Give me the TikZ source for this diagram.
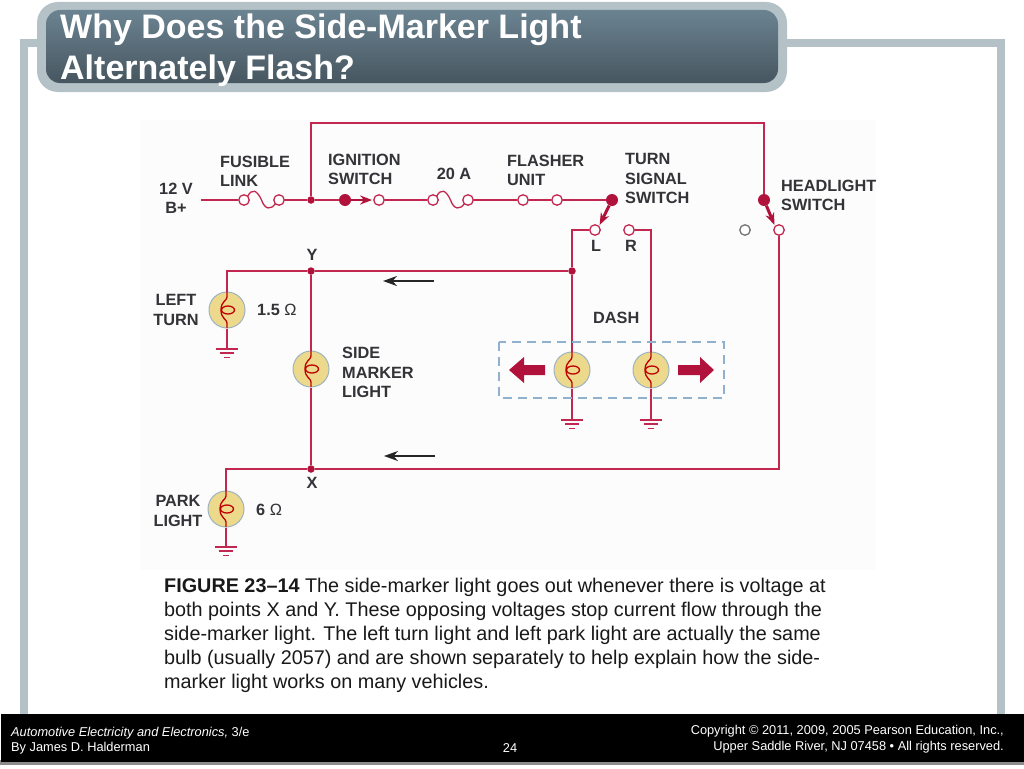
\documentclass[tikz,border=0pt]{standalone}
\usepackage{fontspec}
\setmainfont{Liberation Sans}
\usetikzlibrary{arrows.meta}
\definecolor{framecol}{HTML}{B4C2C8}
\definecolor{titletop}{HTML}{6B8391}
\definecolor{titlebot}{HTML}{475660}
\definecolor{wirecol}{HTML}{C2274F}
\definecolor{dotcol}{HTML}{B0123B}
\definecolor{bulbcol}{HTML}{EDD98C}
\definecolor{bulbrim}{HTML}{9DB3BD}
\definecolor{labelcol}{HTML}{333338}
\definecolor{dashcol}{HTML}{8FB0CE}
\tikzset{
  wire/.style={draw=wirecol,line width=1.3pt},
  term/.style={circle,draw=wirecol,fill=white,line width=1.3pt,minimum size=10.5pt,inner sep=0pt},
  junct/.style={circle,fill=dotcol,minimum size=7.5pt,inner sep=0pt},
  pivot/.style={circle,fill=dotcol,minimum size=12pt,inner sep=0pt},
  bulb/.style={circle,draw=bulbrim,fill=bulbcol,line width=1pt,minimum size=36pt,inner sep=0pt},
  lab/.style={font=\fontsize{16.3}{19.5}\selectfont\bfseries,text=labelcol,inner sep=0pt},
  bigarrow/.style={fill=dotcol,draw=none},
  flow/.style={-{Stealth[length=14pt,width=10pt]},line width=2pt,black!85},
  arm/.style={-{Stealth[length=12pt,width=9pt]},line width=3pt,dotcol,shorten >=1pt},
  foot/.style={font=\fontsize{12.8}{15}\selectfont,text=white,inner sep=0pt},
  titletext/.style={anchor=base west,font=\fontsize{34}{41}\selectfont\bfseries,text=white,inner sep=0pt}
}
\newcommand{\fuselink}[1]{\draw[wire,shift={(#1.center)}] (3.5,-3.5) .. controls (8,-12) and (13,-10) .. (17.5,0) .. controls (21,10) and (27,10) .. (31.5,3.5);}
\newcommand{\filament}[1]{\begin{scope}[shift={(#1.center)},line width=1.3pt,red!75!black]
  \draw (0,-18) -- (0,-13) .. controls (0,-9) and (-6,-9) .. (-6,0) .. controls (-6,9) and (0,9) .. (0,13) -- (0,18);
  \draw (1,0) ellipse [x radius=6.5,y radius=4];
\end{scope}}
\newcommand{\ground}[1]{\draw[wirecol,line width=1.2pt] (#1) ++(-11,0) -- ++(22,0) ++(-18,4) -- ++(14,0) ++(-10,4.5) -- ++(6,0);}
\begin{document}
\begin{tikzpicture}[x=1pt,y=-1pt]
\useasboundingbox (0,0) rectangle (1024,768);
\fill[white] (0,0) rectangle (1024,768);
\draw[framecol,line width=8pt] (24,714) -- (24,43) -- (1001,43) -- (1001,714);
\fill[black!1!white] (140,120) rectangle (876,570);
\fill[framecol,rounded corners=21pt] (37,2) rectangle (787,92);
\shade[top color=titletop,bottom color=titlebot,rounded corners=14pt] (46,10) rectangle (778,83);
\node[titletext] (title) at (60,38) {Why Does the Side-Marker Light};
\node[titletext] (title2) at (60,79) {Alternately Flash?};
% battery line
\coordinate (bplus) at (201,200);
\node[term] (fl1) at (244,200) {};
\node[term] (fl2) at (279,200) {};
\node[junct] (top) at (311,200) {};
\node[pivot] (ign) at (345,200) {};
\node[term] (ign2) at (379,200) {};
\node[term] (fa1) at (433,200) {};
\node[term] (fa2) at (468,200) {};
\node[term] (fu1) at (523,200) {};
\node[term] (fu2) at (557,200) {};
\node[pivot] (turn) at (612,200) {};
\node[term] (tl) at (595,230) {};
\node[term] (tr) at (629,230) {};
\node[pivot] (head) at (764,200) {};
\node[term] (hd) at (779,230) {};
\node[term,draw=black!55] (hoff) at (745,230) {};
\coordinate (top1) at (311,123);
\coordinate (top2) at (764,123);
\draw[wire] (bplus) -- (fl1);
\draw[wire] (fl2) -- (top);
\draw[wire] (top) -- (ign);
\draw[wire] (ign2) -- (fa1);
\draw[wire] (fa2) -- (fu1);
\draw[wire] (fu1) -- (fu2);
\draw[wire] (fu2) -- (turn);
\draw[wire] (top) -- (top1) -- (top2) -- (head);
\fuselink{fl1}
\fuselink{fa1}
\draw[arm,line width=2pt] (ign) -- (ign2.west);
\draw[arm] (turn) -- (tl.north east);
\draw[arm] (head) -- (hd.north west);
% lamps
\node[junct] (y) at (311,271) {};
\node[junct] (ly) at (572,271) {};
\node[junct] (x) at (311,469) {};
\node[bulb] (left) at (227,310) {};
\node[bulb] (side) at (311,369) {};
\node[bulb] (park) at (226,509) {};
\node[bulb] (dl) at (572,370) {};
\node[bulb] (dr) at (651,370) {};
\coordinate (c1) at (572,230);
\coordinate (c2) at (651,230);
\coordinate (c3) at (227,271);
\coordinate (c4) at (226,469);
\coordinate (c5) at (779,469);
\coordinate (g1) at (227,349);
\coordinate (g2) at (226,547);
\coordinate (g3) at (572,420);
\coordinate (g4) at (651,420);
\draw[wire] (tl) -- (c1) -- (ly);
\draw[wire] (ly) -- (dl.north);
\draw[wire] (tr) -- (c2) -- (dr.north);
\draw[wire] (ly) -- (y);
\draw[wire] (y) -- (c3) -- (left.north);
\draw[wire] (y) -- (side.north);
\draw[wire] (side.south) -- (x);
\draw[wire] (hd) -- (c5) -- (x);
\draw[wire] (x) -- (c4) -- (park.north);
\draw[wire] (left.south) -- (g1);
\draw[wire] (park.south) -- (g2);
\draw[wire] (dl.south) -- (g3);
\draw[wire] (dr.south) -- (g4);
\ground{g1}
\ground{g2}
\ground{g3}
\ground{g4}
\filament{left}
\filament{side}
\filament{park}
\filament{dl}
\filament{dr}
\draw[dashcol,line width=1.1pt,dash pattern=on 9pt off 6pt] (499,342) rectangle (724,398);
\fill[bigarrow] (509,370) -- (524,357) -- (524,365) -- (545,365) -- (545,375) -- (524,375) -- (524,383) -- cycle;
\fill[bigarrow] (714,370) -- (700,357) -- (700,365) -- (678,365) -- (678,375) -- (700,375) -- (700,383) -- cycle;
\coordinate (fy1) at (434,281);
\coordinate (fy2) at (383,281);
\coordinate (fx1) at (435,456);
\coordinate (fx2) at (384,456);
\draw[flow] (fy1) -- (fy2);
\draw[flow] (fx1) -- (fx2);
% labels
\node[lab,align=center] (l12v) at (176,198.5) {12 V\\B+};
\node[lab,align=left,anchor=west] (lfus) at (220,171.5) {FUSIBLE\\LINK};
\node[lab,align=left,anchor=west] (lign) at (328,169.5) {IGNITION\\SWITCH};
\node[lab] (l20a) at (454,174) {20 A};
\node[lab,align=left,anchor=west] (lfla) at (507,170.5) {FLASHER\\UNIT};
\node[lab,align=left,anchor=west] (ltur) at (625,178.5) {TURN\\SIGNAL\\SWITCH};
\node[lab,align=left,anchor=west] (lhea) at (781,195.5) {HEADLIGHT\\SWITCH};
\node[lab] (ll) at (596,246) {L};
\node[lab] (lr) at (631,246) {R};
\node[lab] (ly2) at (312,255) {Y};
\node[lab] (lx) at (312,483) {X};
\node[lab,align=center] (llef) at (176,310) {LEFT\\TURN};
\node[lab,anchor=west] (lr1) at (257,309.5) {1.5 {\mdseries Ω}};
\node[lab,align=left,anchor=west] (lsid) at (342,372.5) {SIDE\\MARKER\\LIGHT};
\node[lab,anchor=west] (ldas) at (593,318) {DASH};
\node[lab,align=center] (lpar) at (178,511) {PARK\\LIGHT};
\node[lab,anchor=west] (lr2) at (256,509.5) {6 {\mdseries Ω}};
% caption
\node[anchor=north west,align=left,inner sep=0pt,font=\fontsize{19.8}{24}\selectfont,text=black!90] (cap) at (164,578) {\textbf{FIGURE 23–14} The side-marker light goes out whenever there is voltage at\\both points X and Y. These opposing voltages stop current flow through the\\side-marker light. The left turn light and left park light are actually the same\\bulb (usually 2057) and are shown separately to help explain how the side-\\marker light works on many vehicles.};
% footer
\fill[black!45] (0,760) rectangle (1024,765);
\fill[black] (1,714) rectangle (1024,762);
\node[foot,anchor=base west] (f1) at (11,736) {\itshape Automotive Electricity and Electronics,\upshape\ 3/e};
\node[foot,anchor=base west] (f2) at (11,751) {By James D. Halderman};
\node[foot,anchor=base] (f3) at (510,752) {24};
\node[foot,anchor=base east] (f4) at (1004,734) {Copyright © 2011, 2009, 2005 Pearson Education, Inc.,};
\node[foot,anchor=base east] (f5) at (1004,750) {Upper Saddle River, NJ 07458 • All rights reserved.};
\end{tikzpicture}
\end{document}
